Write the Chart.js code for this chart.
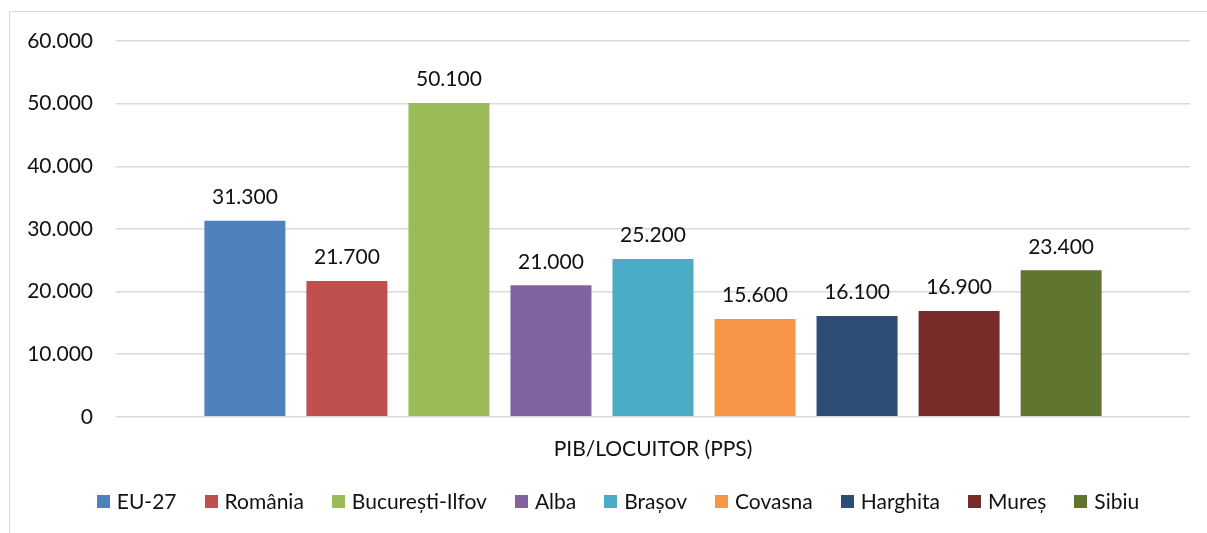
<!DOCTYPE html>
<html>
<head>
<meta charset="utf-8">
<script src="https://cdn.jsdelivr.net/npm/chart.js@4/dist/chart.umd.min.js"></script>
<style>
  html, body { margin: 0; padding: 0; background: #fff; overflow: hidden; }
  #wrap { position: relative; width: 1207px; height: 533px; }
  #frame { position: absolute; left: 9px; top: 11px; width: 1220px; height: 540px;
           border-left: 1px solid #d9d9d9; border-top: 1px solid #d9d9d9; box-sizing: border-box; }
  canvas { position: absolute; left: 0; top: 0; }
</style>
</head>
<body>
<div id="wrap">
  <div id="frame"></div>
  <canvas id="c" width="1207" height="533"></canvas>
</div>
<script>
const categories = ["PIB/LOCUITOR (PPS)"];
const seriesNames = ["EU-27", "România", "București-Ilfov", "Alba", "Brașov", "Covasna", "Harghita", "Mureș", "Sibiu"];
const seriesValues = [31300, 21700, 50100, 21000, 25200, 15600, 16100, 16900, 23400];
const seriesColors = ["#4F81BD", "#C0504D", "#9BBB59", "#8064A2", "#4BACC6", "#F79646", "#2C4D75", "#772C2A", "#5F7530"];
const yTicks = [0, 10000, 20000, 30000, 40000, 50000, 60000];

const FONT = "Lato, 'Open Sans', sans-serif";
const FS = 21;
function fmt(v) { return v === 0 ? "0" : v.toLocaleString("de-DE"); }

const datasets = seriesNames.map((n, i) => ({
  label: n,
  data: [seriesValues[i]],
  backgroundColor: seriesColors[i],
  borderWidth: 0,
  barPercentage: 0.794,
  categoryPercentage: 0.855
}));

const valueLabels = {
  id: "valueLabels",
  afterDatasetsDraw(chart) {
    const ctx = chart.ctx;
    ctx.save();
    ctx.font = FS + "px " + FONT;
    ctx.fillStyle = "#111";
    ctx.textAlign = "center";
    ctx.textBaseline = "bottom";
    chart.data.datasets.forEach((ds, i) => {
      const meta = chart.getDatasetMeta(i);
      meta.data.forEach((bar, j) => {
        ctx.fillText(fmt(ds.data[j]), bar.x, bar.y - 13);
      });
    });
    ctx.restore();
  }
};

// bottom legend drawn from the datasets (Excel-like spacing)
const bottomLegend = {
  id: "bottomLegend",
  afterDraw(chart) {
    const ctx = chart.ctx;
    ctx.save();
    ctx.font = FS + "px " + FONT;
    const box = 13, gap = 7, spacing = 28;
    const items = chart.data.datasets.map(ds => ({ text: ds.label, color: ds.backgroundColor, w: ctx.measureText(ds.label).width }));
    const total = items.reduce((s, it) => s + box + gap + it.w, 0) + spacing * (items.length - 1);
    const cx = 618, cy = 501;
    let x = cx - total / 2;
    ctx.textBaseline = "middle";
    ctx.textAlign = "left";
    items.forEach(it => {
      ctx.fillStyle = it.color;
      ctx.fillRect(Math.round(x), cy - 6, box, box);
      ctx.fillStyle = "#111";
      ctx.fillText(it.text, x + box + gap, cy + 1);
      x += box + gap + it.w + spacing;
    });
    ctx.restore();
  }
};

new Chart(document.getElementById("c"), {
  type: "bar",
  data: { labels: categories, datasets },
  options: {
    responsive: false,
    animation: false,
    devicePixelRatio: 1,
    layout: { padding: { top: 41, right: 17, left: 0, bottom: 51 } },
    plugins: {
      legend: { display: false },
      tooltip: { enabled: false }
    },
    scales: {
      x: {
        grid: { display: false, drawTicks: false },
        border: { display: false },
        ticks: { font: { size: FS, family: FONT }, color: "#111", padding: 20 }
      },
      y: {
        min: 0, max: 60000,
        afterBuildTicks(axis) { axis.ticks = yTicks.map(v => ({ value: v })); },
        afterFit(axis) { axis.width = 116; },
        grid: { color: "#d9d9d9", lineWidth: 1.5, drawTicks: false },
        border: { display: false },
        ticks: { font: { size: FS, family: FONT }, color: "#111", padding: 23, callback: v => fmt(v) }
      }
    }
  },
  plugins: [valueLabels, bottomLegend]
});
</script>
</body>
</html>
